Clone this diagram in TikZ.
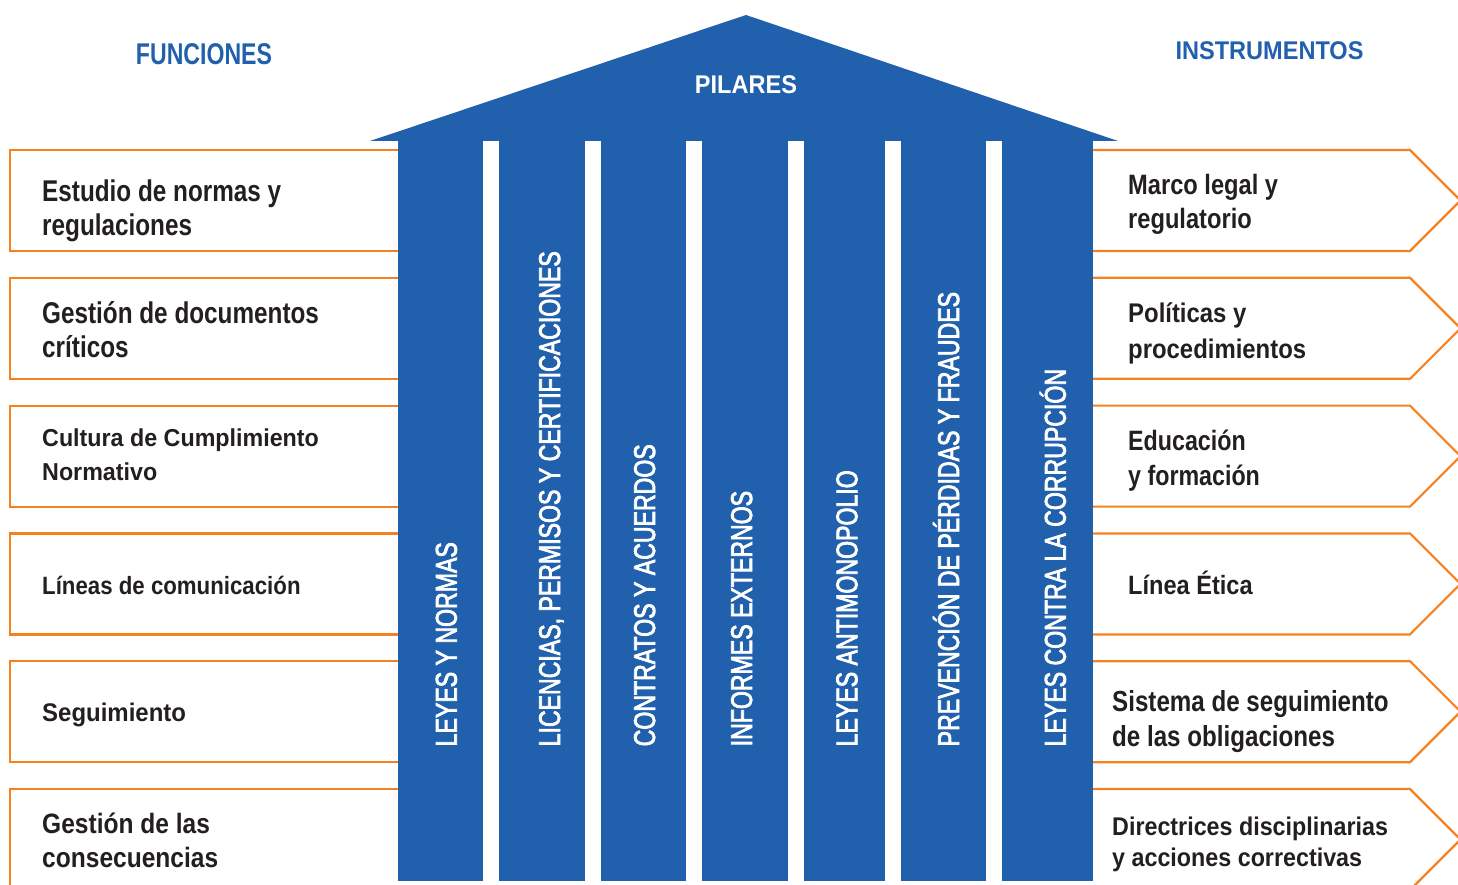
\documentclass[tikz,border=0pt]{standalone}
\usepackage{fontspec}
\setmainfont{Liberation Sans}
\definecolor{pblue}{RGB}{33,96,173}
\definecolor{porange}{RGB}{245,130,32}
\definecolor{ptext}{RGB}{35,31,32}
\newcommand\sq[3]{\fontspec{Liberation Sans}[FakeStretch=#1]\fontsize{#2}{#3}\selectfont}
\newcommand\sqv[3]{\fontspec{Liberation Sans}[FakeStretch=#1,FakeBold=2.5]\fontsize{#2}{#3}\selectfont}
\begin{document}
\begin{tikzpicture}[x=1pt,y=-1pt,
  obox/.style={draw=porange,line width=2.2pt,line join=miter},
  pillar/.style={fill=pblue},
  lab/.style={anchor=base west,inner sep=0pt,align=left,text=ptext},
  vlab/.style={anchor=base west,inner sep=0pt,text=white,rotate=90,font=\sqv{0.77}{30}{36}},
  ttl/.style={anchor=base,inner sep=0pt}]
\useasboundingbox (0,0) rectangle (1458,885);
\clip (0,0) rectangle (1458,885);
% orange boxes
\foreach \t in {150,277.8,405.6,533.4,661.2,789} {
  \draw[obox] (398,\t) -- (10,\t) -- (10,\t+101) -- (398,\t+101);
  \draw[obox] (1093,\t) -- (1410,\t) -- (1460.5,\t+50.5) -- (1410,\t+101) -- (1093,\t+101);
}
% house
\fill[pblue] (370,141) -- (746,15) -- (1118,141) -- cycle;
\foreach \a/\b in {398/483,499/585,601/686,702/788,804/885,901/986,1002/1093} {
  \fill[pillar] (\a,140) rectangle (\b,881);
}
% titles
\node[ttl,text=pblue,font=\sq{0.77}{30}{36}\bfseries] (fun) at (204,65) {FUNCIONES};
\node[ttl,text=pblue,font=\sq{0.92}{25.6}{30}\bfseries] (ins) at (1269.5,60) {INSTRUMENTOS};
\node[ttl,text=white,font=\sq{0.92}{25.6}{30}\bfseries] (pil) at (746,93.3) {PILARES};
% pillar labels
\node[vlab] (p1) at (456.7,746.5) {LEYES Y NORMAS};
\node[vlab] (p2) at (560,746.5) {LICENCIAS, PERMISOS Y CERTIFICACIONES};
\node[vlab] (p3) at (655,746.5) {CONTRATOS Y ACUERDOS};
\node[vlab] (p4) at (752,746.5) {INFORMES EXTERNOS};
\node[vlab] (p5) at (857.3,746.5) {LEYES ANTIMONOPOLIO};
\node[vlab] (p6) at (959,746.5) {PREVENCIÓN DE PÉRDIDAS Y FRAUDES};
\node[vlab] (p7) at (1065.7,746.5) {LEYES CONTRA LA CORRUPCIÓN};
% funciones (base anchor = baseline of the last line)
\node[lab,font=\sq{0.81}{30}{34.3}\bfseries] (f1) at (42,236) {Estudio de normas y\\regulaciones};
\node[lab,font=\sq{0.81}{30}{34}\bfseries] (f2) at (42,357.3) {Gestión de documentos\\críticos};
\node[lab,font=\sq{0.95}{24.5}{34}\bfseries] (f3) at (42,480) {Cultura de Cumplimiento\\Normativo};
\node[lab,font=\sq{0.89}{25}{30}\bfseries] (f4) at (42,594) {Líneas de comunicación};
\node[lab,font=\sq{0.94}{25.5}{30}\bfseries] (f5) at (42,721.7) {Seguimiento};
\node[lab,font=\sq{0.877}{28}{34.7}\bfseries] (f6) at (42,867.7) {Gestión de las\\consecuencias};
% instrumentos
\node[lab,font=\sq{0.845}{28}{34}\bfseries] (i1) at (1128,229) {Marco legal y\\regulatorio};
\node[lab,font=\sq{0.885}{27}{35.3}\bfseries] (i2) at (1128,358) {Políticas y\\procedimientos};
\node[lab,font=\sq{0.83}{28}{35}\bfseries] (i3) at (1128,485) {Educación\\y formación};
\node[lab,font=\sq{0.89}{26.5}{30}\bfseries] (i4) at (1128,594) {Línea Ética};
\node[lab,font=\sq{0.833}{29}{35}\bfseries] (i5) at (1112,746) {Sistema de seguimiento\\de las obligaciones};
\node[lab,font=\sq{0.91}{25.6}{31.7}\bfseries] (i6) at (1112,866.7) {Directrices disciplinarias\\y acciones correctivas};
\end{tikzpicture}
\end{document}
